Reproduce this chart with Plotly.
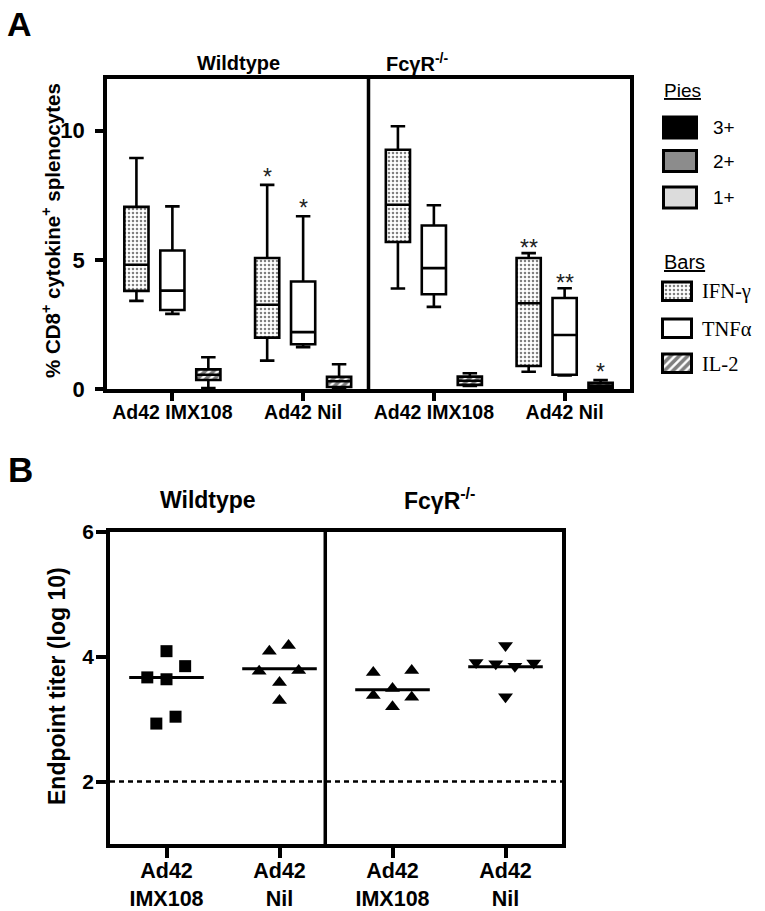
import plotly.graph_objects as go

SANS = "Liberation Sans, Arial, Helvetica, sans-serif"
SERIF = "Liberation Serif, Times New Roman, serif"
W, H = 765, 911

# ---------------- Panel A data (box summaries) ----------------
# order: Wildtype IMX108, Wildtype Nil, FcgR-/- IMX108, FcgR-/- Nil
groups_A = ["Ad42 IMX108", "Ad42 Nil", "Ad42 IMX108", "Ad42 Nil"]
ifn_low = [3.41, 1.10, 3.89, 0.67]
ifn_q1 = [3.80, 1.99, 5.69, 0.89]
ifn_med = [4.81, 3.26, 7.13, 3.32]
ifn_q3 = [7.05, 5.07, 9.26, 5.07]
ifn_high = [8.94, 7.90, 10.17, 5.26]
ifn_stars = ["", "*", "", "**"]

tnf_low = [2.91, 1.62, 3.18, 0.52]
tnf_q1 = [3.06, 1.73, 3.67, 0.55]
tnf_med = [3.81, 2.20, 4.68, 2.09]
tnf_q3 = [5.36, 4.16, 6.33, 3.52]
tnf_high = [7.07, 6.69, 7.11, 3.90]
tnf_stars = ["", "*", "", "**"]

il2_low = [0.04, 0.03, 0.12, 0.03]
il2_q1 = [0.35, 0.08, 0.16, 0.04]
il2_med = [0.55, 0.30, 0.32, 0.13]
il2_q3 = [0.76, 0.47, 0.48, 0.24]
il2_high = [1.23, 0.96, 0.61, 0.35]
il2_stars = ["", "", "", "*"]

yticks_A = [0, 5, 10]

# ---------------- Panel B data (endpoint titers, log10) ----------------
groups_B = ["Ad42<br>IMX108", "Ad42<br>Nil", "Ad42<br>IMX108", "Ad42<br>Nil"]
titer_wt_imx = [4.09, 3.85, 3.67, 3.64, 3.04, 2.93]
titer_wt_nil = [4.09, 4.18, 3.77, 3.78, 3.59, 3.30]
titer_ko_imx = [3.75, 3.38, 3.49, 3.20, 3.78, 3.35]
titer_ko_nil = [4.18, 3.91, 3.89, 3.85, 3.90, 3.36]
titer_medians = [3.67, 3.81, 3.47, 3.84]
detection_limit = 2
yticks_B = [2, 4, 6]

fig = go.Figure()

# ---------------- Panel A traces ----------------
box_w = 0.185
PAT_IFN = dict(shape=".", size=4, solidity=0.32)
PAT_IL2 = dict(shape="/", size=6, solidity=0.6)
series = [
    (ifn_low, ifn_q1, ifn_med, ifn_q3, ifn_high, ifn_stars, -0.275, PAT_IFN),
    (tnf_low, tnf_q1, tnf_med, tnf_q3, tnf_high, tnf_stars, 0.0, None),
    (il2_low, il2_q1, il2_med, il2_q3, il2_high, il2_stars, 0.275, PAT_IL2),
]
star_annots = []
for lo, q1, med, q3, hi, stars, off, pat in series:
    xs = [i + off for i in range(len(groups_A))]
    if pat:
        fig.add_trace(go.Bar(
            x=xs, y=[b - a for a, b in zip(q1, q3)], base=q1, width=box_w,
            marker=dict(color="white", line=dict(width=0),
                        pattern=dict(fgcolor="black", bgcolor="white", **pat)),
            xaxis="x", yaxis="y", showlegend=False, hoverinfo="skip"))
    fig.add_trace(go.Box(
        x=xs, q1=q1, median=med, q3=q3, lowerfence=lo, upperfence=hi,
        width=box_w, whiskerwidth=0.6, fillcolor="rgba(0,0,0,0)",
        line=dict(color="black", width=2.6), xaxis="x", yaxis="y",
        showlegend=False))
    for x, h, s in zip(xs, hi, stars):
        if s:
            star_annots.append(dict(
                x=x, y=h, xref="x", yref="y", text=s, showarrow=False,
                yanchor="middle", yshift=8 if len(s) == 1 else 5,
                font=dict(family=SANS, size=23, color="#222")))

# ---------------- Panel B traces ----------------
offs_wt_imx = [0, 0.165, -0.17, 0, 0.08, -0.09]
offs_wt_nil = [-0.09, 0.08, -0.18, 0.17, 0, 0]
offs_ko_imx = [-0.17, -0.17, 0, 0, 0.17, 0.17]
offs_ko_nil = [0, -0.26, -0.086, 0.083, 0.25, 0]
sets = [
    (0, titer_wt_imx, offs_wt_imx, "square", 12),
    (1, titer_wt_nil, offs_wt_nil, "triangle-up", 13),
    (2, titer_ko_imx, offs_ko_imx, "triangle-up", 13),
    (3, titer_ko_nil, offs_ko_nil, "triangle-down", 13),
]
for g, vals, offs, sym, sz in sets:
    fig.add_trace(go.Scatter(
        x=[g + o for o in offs], y=vals, mode="markers",
        marker=dict(symbol=sym, size=sz, color="black", line=dict(width=0)),
        xaxis="x2", yaxis="y2", showlegend=False))
mx, my = [], []
for g, m in enumerate(titer_medians):
    mx += [g - 0.33, g + 0.33, None]
    my += [m, m, None]
fig.add_trace(go.Scatter(x=mx, y=my, mode="lines",
                         line=dict(color="black", width=3),
                         xaxis="x2", yaxis="y2", showlegend=False))
fig.add_trace(go.Scatter(x=[-0.5, 3.5], y=[detection_limit] * 2, mode="lines",
                         line=dict(color="black", width=2.5, dash="5px,4px"),
                         xaxis="x2", yaxis="y2", showlegend=False))

# ---------------- custom legend (pixel axis) ----------------
pie_labels = ["3+", "2+", "1+"]
pie_colors = ["#000000", "#8c8c8c", "#dcdcdc"]
bar_labels = ["IFN-γ", "TNFα", "IL-2"]
bar_patterns = [PAT_IFN, dict(shape=""), PAT_IL2]

pie_tops = [117, 150.5, 187]
for lab, col, top in zip(pie_labels, pie_colors, pie_tops):
    fig.add_trace(go.Bar(x=[680], y=[21], base=[top], width=33,
                         marker=dict(color=col, line=dict(color="black", width=3)),
                         xaxis="x3", yaxis="y3", showlegend=False, hoverinfo="skip"))
bar_tops = [282, 319, 354]
for lab, pat, top in zip(bar_labels, bar_patterns, bar_tops):
    fig.add_trace(go.Bar(x=[677], y=[18.5], base=[top], width=29,
                         marker=dict(color="white", line=dict(color="black", width=3),
                                     pattern=dict(fgcolor="black", bgcolor="white", **pat)),
                         xaxis="x3", yaxis="y3", showlegend=False, hoverinfo="skip"))

ann = list(star_annots)
def pix(text, x, y, size, bold=True, family=SANS, xanchor="center", angle=0):
    ann.append(dict(x=x, y=y, xref="x3", yref="y3", text=text, showarrow=False,
                    xanchor=xanchor, yanchor="middle", textangle=angle,
                    font=dict(family=family, size=size, color="black",
                              weight="bold" if bold else "normal")))

pix("A", 19, 24, 34)
pix("B", 20, 469, 35)
pix("Wildtype", 238, 63, 20)
pix("FcγR<sup>-/-</sup>", 417, 62, 20)
pix("Wildtype", 208, 500, 23)
pix("FcγR<sup>-/-</sup>", 439, 499, 23)
pix("% CD8<sup>+</sup> cytokine<sup>+</sup> splenocytes", 51, 231, 20.5, angle=-90)
pix("Endpoint titer (log 10)", 57, 686, 23, angle=-90)
pix("<u>Pies</u>", 662, 90, 19, bold=False, xanchor="left")
for lab, top in zip(pie_labels, pie_tops):
    pix(lab, 711, top + 10.5, 19, bold=False, xanchor="left")
pix("<u>Bars</u>", 662, 262, 20, bold=False, xanchor="left")
for lab, top in zip(bar_labels, bar_tops):
    pix(lab, 700, top + 9.5, 20.5, bold=False, family=SERIF, xanchor="left")

# ---------------- layout ----------------
axis_common = dict(showline=True, linewidth=3.5, linecolor="black", mirror=True,
                   ticks="outside", tickwidth=3.5, tickcolor="black",
                   showgrid=False, zeroline=False, automargin=False)
shapes = [
    dict(type="line", xref="x", yref="y domain", x0=1.5, x1=1.5, y0=0, y1=1,
         line=dict(color="black", width=3.5)),
    dict(type="line", xref="x2", yref="y2 domain", x0=1.405, x1=1.405, y0=0, y1=1,
         line=dict(color="black", width=3.5)),
]
fig.update_layout(
    width=W, height=H, margin=dict(l=0, r=0, t=0, b=0),
    paper_bgcolor="white", plot_bgcolor="rgba(0,0,0,0)",
    barmode="overlay", boxmode="overlay", showlegend=False,
    xaxis=dict(domain=[107 / W, 630 / W], anchor="y", range=[-0.5, 3.5],
               tickvals=list(range(len(groups_A))), ticktext=groups_A, ticklen=8,
               ticklabelstandoff=-5,
               tickfont=dict(family=SANS, size=19.5, color="black", weight="bold"),
               **axis_common),
    yaxis=dict(domain=[1 - 389 / H, 1 - 79 / H], anchor="x", range=[0, 12],
               tickvals=yticks_A, ticklen=8, ticklabelstandoff=6,
               tickfont=dict(family=SANS, size=22, color="black", weight="bold"),
               **axis_common),
    xaxis2=dict(domain=[110 / W, 562 / W], anchor="y2", range=[-0.5, 3.5],
                tickvals=list(range(len(groups_B))), ticktext=groups_B, ticklen=10,
                ticklabelstandoff=-6,
                tickfont=dict(family=SANS, size=21.5, color="black", weight="bold"),
                **axis_common),
    yaxis2=dict(domain=[1 - 844 / H, 1 - 532 / H], anchor="x2", range=[1, 6],
                tickvals=yticks_B, ticklen=10, ticklabelstandoff=-2,
                tickfont=dict(family=SANS, size=21, color="black", weight="bold"),
                **axis_common),
    xaxis3=dict(domain=[0, 1], anchor="y3", range=[0, W], visible=False, fixedrange=True),
    yaxis3=dict(domain=[0, 1], anchor="x3", range=[H, 0], visible=False, fixedrange=True),
    annotations=ann, shapes=shapes,
)
fig.write_html("out.html", config={"displayModeBar": False},
               post_script="document.body.style.margin='0';document.body.style.overflow='hidden';")
